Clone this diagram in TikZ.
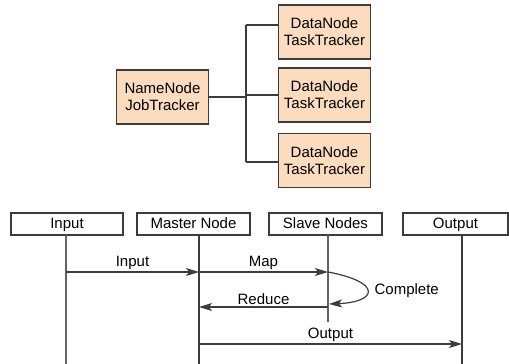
\documentclass[tikz,border=0pt]{standalone}
\usepackage{fontspec}
\setmainfont{Liberation Sans}
\usetikzlibrary{arrows.meta}

\definecolor{peach}{RGB}{252,220,190}
\definecolor{inkgrey}{RGB}{60,60,60}

\begin{document}
\begin{tikzpicture}[%
        x = 1pt,
        y = -1pt,
        line width = 1.2pt,
        font = \fontsize{15}{17}\selectfont,
        tracker/.style = {draw = inkgrey, fill = peach, align = center,
            inner sep = 0pt, minimum width = 92pt, minimum height = 54pt},
        header/.style = {draw = inkgrey, inner sep = 0pt, minimum height = 22pt,
            text height = 11pt, text depth = 3pt},
        lifeline/.style = {draw = inkgrey!80},
        message/.style = {draw = inkgrey,
            -{Stealth[length = 13pt, width = 8pt, inset = 3pt]}}
    ]
        \useasboundingbox (0, 0) rectangle (509, 364);

        % Cluster: one master and three workers.
        \node[tracker] (Name_Node) at (162.5, 97) {NameNode\\JobTracker};
        \node[tracker] (Data_Node_One) at (324.5, 32) {DataNode\\TaskTracker};
        \node[tracker] (Data_Node_Two) at (324.5, 95) {DataNode\\TaskTracker};
        \node[tracker] (Data_Node_Three) at (324.5, 160.5) {DataNode\\TaskTracker};

        % Trunk for the links.
        \coordinate (Trunk_Top) at (246, 25);
        \coordinate (Trunk_Bottom) at (246, 162);

        \draw[inkgrey] (Name_Node.east) -- (Name_Node.east -| Trunk_Top);
        \draw[inkgrey] (Trunk_Top) -- (Trunk_Bottom);
        \draw[inkgrey] (Trunk_Top) -- (Trunk_Top -| Data_Node_One.west);
        \draw[inkgrey] (Data_Node_Two.west -| Trunk_Top) -- (Data_Node_Two.west);
        \draw[inkgrey] (Trunk_Bottom) -- (Trunk_Bottom -| Data_Node_Three.west);

        % Headers of the sequence.
        \node[header, minimum width = 112pt] (Input_Box) at (67, 224) {Input};
        \node[header, minimum width = 113pt] (Master_Box) at (193.5, 224) {Master Node};
        \node[header, minimum width = 113pt] (Slave_Box) at (325.5, 224) {Slave Nodes};
        \node[header, minimum width = 105pt] (Output_Box) at (455.5, 224) {Output};

        % Lifelines.
        \coordinate (Input_Top) at (66, 235);
        \coordinate (Input_End) at (66, 364);
        \coordinate (Master_Top) at (199, 235);
        \coordinate (Master_End) at (199, 364);
        \coordinate (Slave_Top) at (328, 235);
        \coordinate (Slave_End) at (328, 322);
        \coordinate (Output_Top) at (462, 235);
        \coordinate (Output_End) at (462, 364);

        \draw[lifeline] (Input_Top) -- (Input_End);
        \draw[inkgrey] (Master_Top) -- (Master_End);
        \draw[lifeline] (Slave_Top) -- (Slave_End);
        \draw[inkgrey] (Output_Top) -- (Output_End);

        % Messages between the lifelines.
        \coordinate (Input_Send) at (66, 272);
        \coordinate (Master_Get) at (199, 272);
        \coordinate (Slave_Get) at (328, 272);
        \coordinate (Slave_Done) at (329, 304);
        \coordinate (Slave_Send) at (328, 307);
        \coordinate (Master_Back) at (199, 307);
        \coordinate (Master_Send) at (199, 344);
        \coordinate (Output_Get) at (462, 344);

        \draw[message] (Input_Send) -- node[above, inner sep = 2pt] (Input_Label) {Input} (Master_Get);
        \draw[message] (Master_Get) -- node[above, inner sep = 2pt] (Map_Label) {Map} (Slave_Get);
        \draw[message] (Slave_Get)
            .. controls (382, 282) and (378, 302) .. (Slave_Done);
        \node[right, inner sep = 0pt] (Complete_Label) at (374, 291) {Complete};
        \draw[message] (Slave_Send) -- node[above, inner sep = 2pt] (Reduce_Label) {Reduce} (Master_Back);
        \draw[message] (Master_Send) -- node[above, inner sep = 2pt] (Output_Label) {Output} (Output_Get);
    \end{tikzpicture}
\end{document}
